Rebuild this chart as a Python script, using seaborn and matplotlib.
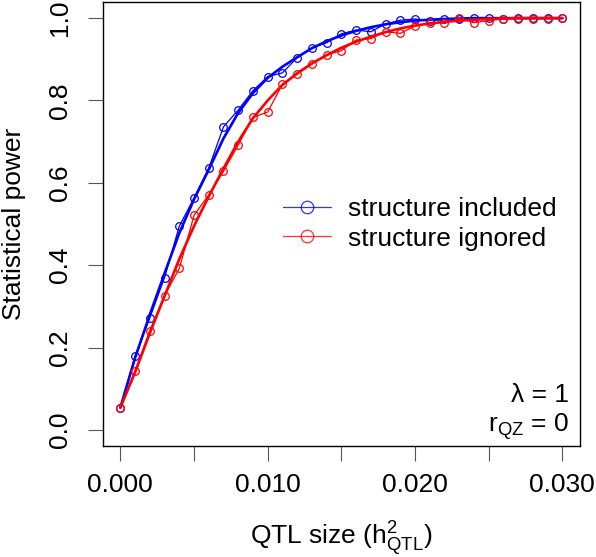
import numpy as np
import pandas as pd
import matplotlib
matplotlib.use("Agg")
import matplotlib.pyplot as plt
from matplotlib.lines import Line2D
import seaborn as sns

# QTL size grid (h2_QTL)
qtl_size = [i / 1000 for i in range(31)]

# observed power, structure included (blue)
power_included = [0.054, 0.179, 0.272, 0.370, 0.495, 0.563, 0.636, 0.736, 0.777, 0.824,
                  0.858, 0.867, 0.904, 0.928, 0.940, 0.962, 0.971, 0.967, 0.986, 0.995,
                  0.998, 0.994, 0.997, 0.998, 1.000, 1.000, 0.999, 1.000, 1.000, 1.000, 1.000]
# observed power, structure ignored (red)
power_ignored = [0.054, 0.143, 0.241, 0.326, 0.392, 0.521, 0.571, 0.628, 0.692, 0.759,
                 0.772, 0.839, 0.864, 0.889, 0.911, 0.921, 0.947, 0.950, 0.967, 0.963,
                 0.981, 0.989, 0.988, 1.000, 0.989, 0.994, 0.998, 0.999, 0.999, 0.999, 1.000]

# smoothed curves
fit_included = [0.054, 0.175, 0.280, 0.380, 0.478, 0.560, 0.632, 0.708, 0.770, 0.818,
                0.855, 0.882, 0.905, 0.927, 0.944, 0.958, 0.969, 0.978, 0.985, 0.990,
                0.994, 0.996, 0.998, 0.999, 1.000, 1.000, 1.000, 1.000, 1.000, 1.000, 1.000]
fit_ignored = [0.054, 0.140, 0.235, 0.325, 0.415, 0.495, 0.567, 0.635, 0.700, 0.757,
               0.800, 0.838, 0.866, 0.890, 0.910, 0.928, 0.943, 0.955, 0.966, 0.975,
               0.982, 0.987, 0.991, 0.994, 0.996, 0.998, 0.999, 1.000, 1.000, 1.000, 1.000]

series_labels = ["structure included", "structure ignored"]
colors = ["#0000FF", "#FF0000"]

sns.set_style("ticks")
plt.rcParams['font.family'] = ['Liberation Sans', 'DejaVu Sans']
plt.rcParams['mathtext.fontset'] = 'custom'
plt.rcParams['mathtext.rm'] = 'Liberation Sans'
plt.rcParams['mathtext.it'] = 'Liberation Sans'
plt.rcParams['font.size'] = 19
plt.rcParams['text.color'] = 'black'
plt.rcParams['axes.labelcolor'] = 'black'
plt.rcParams['xtick.labelcolor'] = 'black'
plt.rcParams['ytick.labelcolor'] = 'black'

df = pd.DataFrame({
    "size": qtl_size * 2,
    "power": power_included + power_ignored,
    "fit": fit_included + fit_ignored,
    "series": [series_labels[0]] * 31 + [series_labels[1]] * 31,
})

fig = plt.figure(figsize=(5.96, 5.57), dpi=100)
ax = fig.add_axes([0.1723, 0.1987, 0.8009, 0.7983])

for lab, col in zip(series_labels, colors):
    sub = df[df["series"] == lab]
    sns.lineplot(data=sub, x="size", y="fit", color=col, linewidth=1.9, ax=ax,
                 sort=False, legend=False)
    sns.lineplot(data=sub, x="size", y="power", color=col, linewidth=0.9, ax=ax,
                 sort=False, legend=False, marker="o", markersize=5.5,
                 markerfacecolor="none", markeredgecolor=col, markeredgewidth=0.9)

ax.set_xlim(-0.0012, 0.0312)
ax.set_ylim(-0.04, 1.04)
ax.set_xticks([0.000, 0.005, 0.010, 0.015, 0.020, 0.025, 0.030])
ax.set_xticklabels(["0.000", "", "0.010", "", "0.020", "", "0.030"])
ax.set_yticks([0.0, 0.2, 0.4, 0.6, 0.8, 1.0])
ax.set_yticklabels(["0.0", "0.2", "0.4", "0.6", "0.8", "1.0"], rotation=90, va="center")
ax.tick_params(axis="both", length=11, width=0.8, color="#555555", labelsize=19,
               labelcolor="black")
ax.tick_params(axis="x", pad=8)
ax.tick_params(axis="y", pad=11)
for sp in ax.spines.values():
    sp.set_visible(True)
    sp.set_linewidth(1.0)
    sp.set_color("black")

ax.set_xlabel(r"QTL size ($\mathregular{h^2_{QTL}}$)", fontsize=19, labelpad=16,
              color="black")
ax.set_ylabel("Statistical power", fontsize=19, labelpad=16, color="black")

ax.text(0.976, 0.115, "λ = 1", transform=ax.transAxes, ha="right", va="center",
        fontsize=19, color="black")
ax.text(0.976, 0.045, r"$\mathregular{r_{QZ}}$ = 0", transform=ax.transAxes,
        ha="right", va="center", fontsize=19, color="black")

handles = [Line2D([], [], color=c, lw=0.9, alpha=0.8, marker="o", markersize=9,
                  markerfacecolor="none", markeredgewidth=0.9) for c in colors]
leg = ax.legend(handles, series_labels, loc="center left", bbox_to_anchor=(0.377, 0.5),
                frameon=False, borderpad=0, borderaxespad=0, handlelength=1.83,
                handletextpad=0.63, labelspacing=0.2, fontsize=19)
for t in leg.get_texts():
    t.set_color("black")

fig.savefig("out.png", dpi=100)
